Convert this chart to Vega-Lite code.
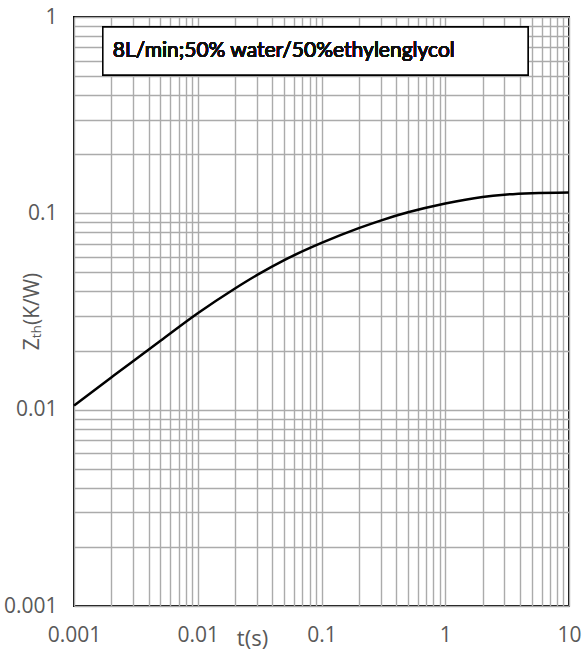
{
  "$schema": "https://vega.github.io/schema/vega-lite/v6.json",
  "autosize": {"type": "none"},
  "padding": {"left": 74, "top": 17, "right": 13, "bottom": 51},
  "width": 495,
  "height": 589,
  "background": "white",
  "config": {
    "view": {"stroke": "black", "strokeWidth": 2},
    "font": "Open Sans",
    "axis": {
      "domain": false,
      "ticks": false,
      "grid": true,
      "gridColor": "#ababab",
      "gridWidth": 1.4,
      "labelColor": "#595959",
      "labelFont": "Open Sans",
      "labelFontSize": 21,
      "labelOverlap": false,
      "labelFlush": false,
      "titleColor": "#595959",
      "titleFont": "Open Sans",
      "titleFontWeight": "normal",
      "titleFontSize": 21
    }
  },
  "data": {
    "values": [
      {"t": 0.001, "z": 0.0105},
      {"t": 0.002, "z": 0.01459},
      {"t": 0.003, "z": 0.01767},
      {"t": 0.005, "z": 0.02244},
      {"t": 0.01, "z": 0.03097},
      {"t": 0.02, "z": 0.04144},
      {"t": 0.03, "z": 0.04844},
      {"t": 0.05, "z": 0.05778},
      {"t": 0.1, "z": 0.07065},
      {"t": 0.2, "z": 0.08404},
      {"t": 0.3, "z": 0.09186},
      {"t": 0.5, "z": 0.1012},
      {"t": 1, "z": 0.1123},
      {"t": 2, "z": 0.1212},
      {"t": 3, "z": 0.1245},
      {"t": 5, "z": 0.1267},
      {"t": 10, "z": 0.1278}
    ]
  },
  "layer": [
    {
      "mark": {"type": "line", "color": "black", "strokeWidth": 2.5, "interpolate": "monotone"},
      "encoding": {
        "x": {
          "field": "t", "type": "quantitative",
          "scale": {"type": "log", "domain": [0.001, 10], "nice": false},
          "axis": {
            "title": "t(s)",
            "titleAnchor": null,
            "titleX": 178,
            "titleY": 22,
            "titleBaseline": "top",
            "titleFontSize": 22,
            "labelPadding": 18,
            "values": [0.001,0.002,0.003,0.004,0.005,0.006,0.007,0.008,0.009,0.01,0.02,0.03,0.04,0.05,0.06,0.07,0.08,0.09,0.1,0.2,0.3,0.4,0.5,0.6,0.7,0.8,0.9,1,2,3,4,5,6,7,8,9,10],
            "labelExpr": "abs(round(log(datum.value)/LN10) - log(datum.value)/LN10) < 1e-6 ? format(datum.value, '~g') : ''"
          }
        },
        "y": {
          "field": "z", "type": "quantitative",
          "scale": {"type": "log", "domain": [0.001, 1], "nice": false},
          "axis": {
            "title": "Zₜₕ(K/W)",
            "titleAnchor": null,
            "titleX": -42,
            "titleY": 294,
            "titleAngle": -90,
            "titleAlign": "center",
            "titleBaseline": "middle",
            "labelPadding": 17,
            "values": [0.001,0.002,0.003,0.004,0.005,0.006,0.007,0.008,0.009,0.01,0.02,0.03,0.04,0.05,0.06,0.07,0.08,0.09,0.1,0.2,0.3,0.4,0.5,0.6,0.7,0.8,0.9,1],
            "labelExpr": "abs(round(log(datum.value)/LN10) - log(datum.value)/LN10) < 1e-6 ? format(datum.value, '~g') : ''"
          }
        }
      }
    },
    {
      "mark": {"type": "rect", "fill": "white", "stroke": "black", "strokeWidth": 1.5},
      "encoding": {
        "x": {"datum": 0.00171, "type": "quantitative"},
        "x2": {"datum": 4.67},
        "y": {"datum": 0.889, "type": "quantitative"},
        "y2": {"datum": 0.506}
      }
    },
    {
      "mark": {"type": "text", "align": "left", "baseline": "middle", "fontSize": 21, "font": "Lato", "fontWeight": 400, "fill": "#111111"},
      "encoding": {
        "x": {"datum": 0.00206, "type": "quantitative"},
        "y": {"datum": 0.671, "type": "quantitative"},
        "text": {"value": "8L/min;50% water/50%ethylenglycol"}
      }
    }
  ]
}
